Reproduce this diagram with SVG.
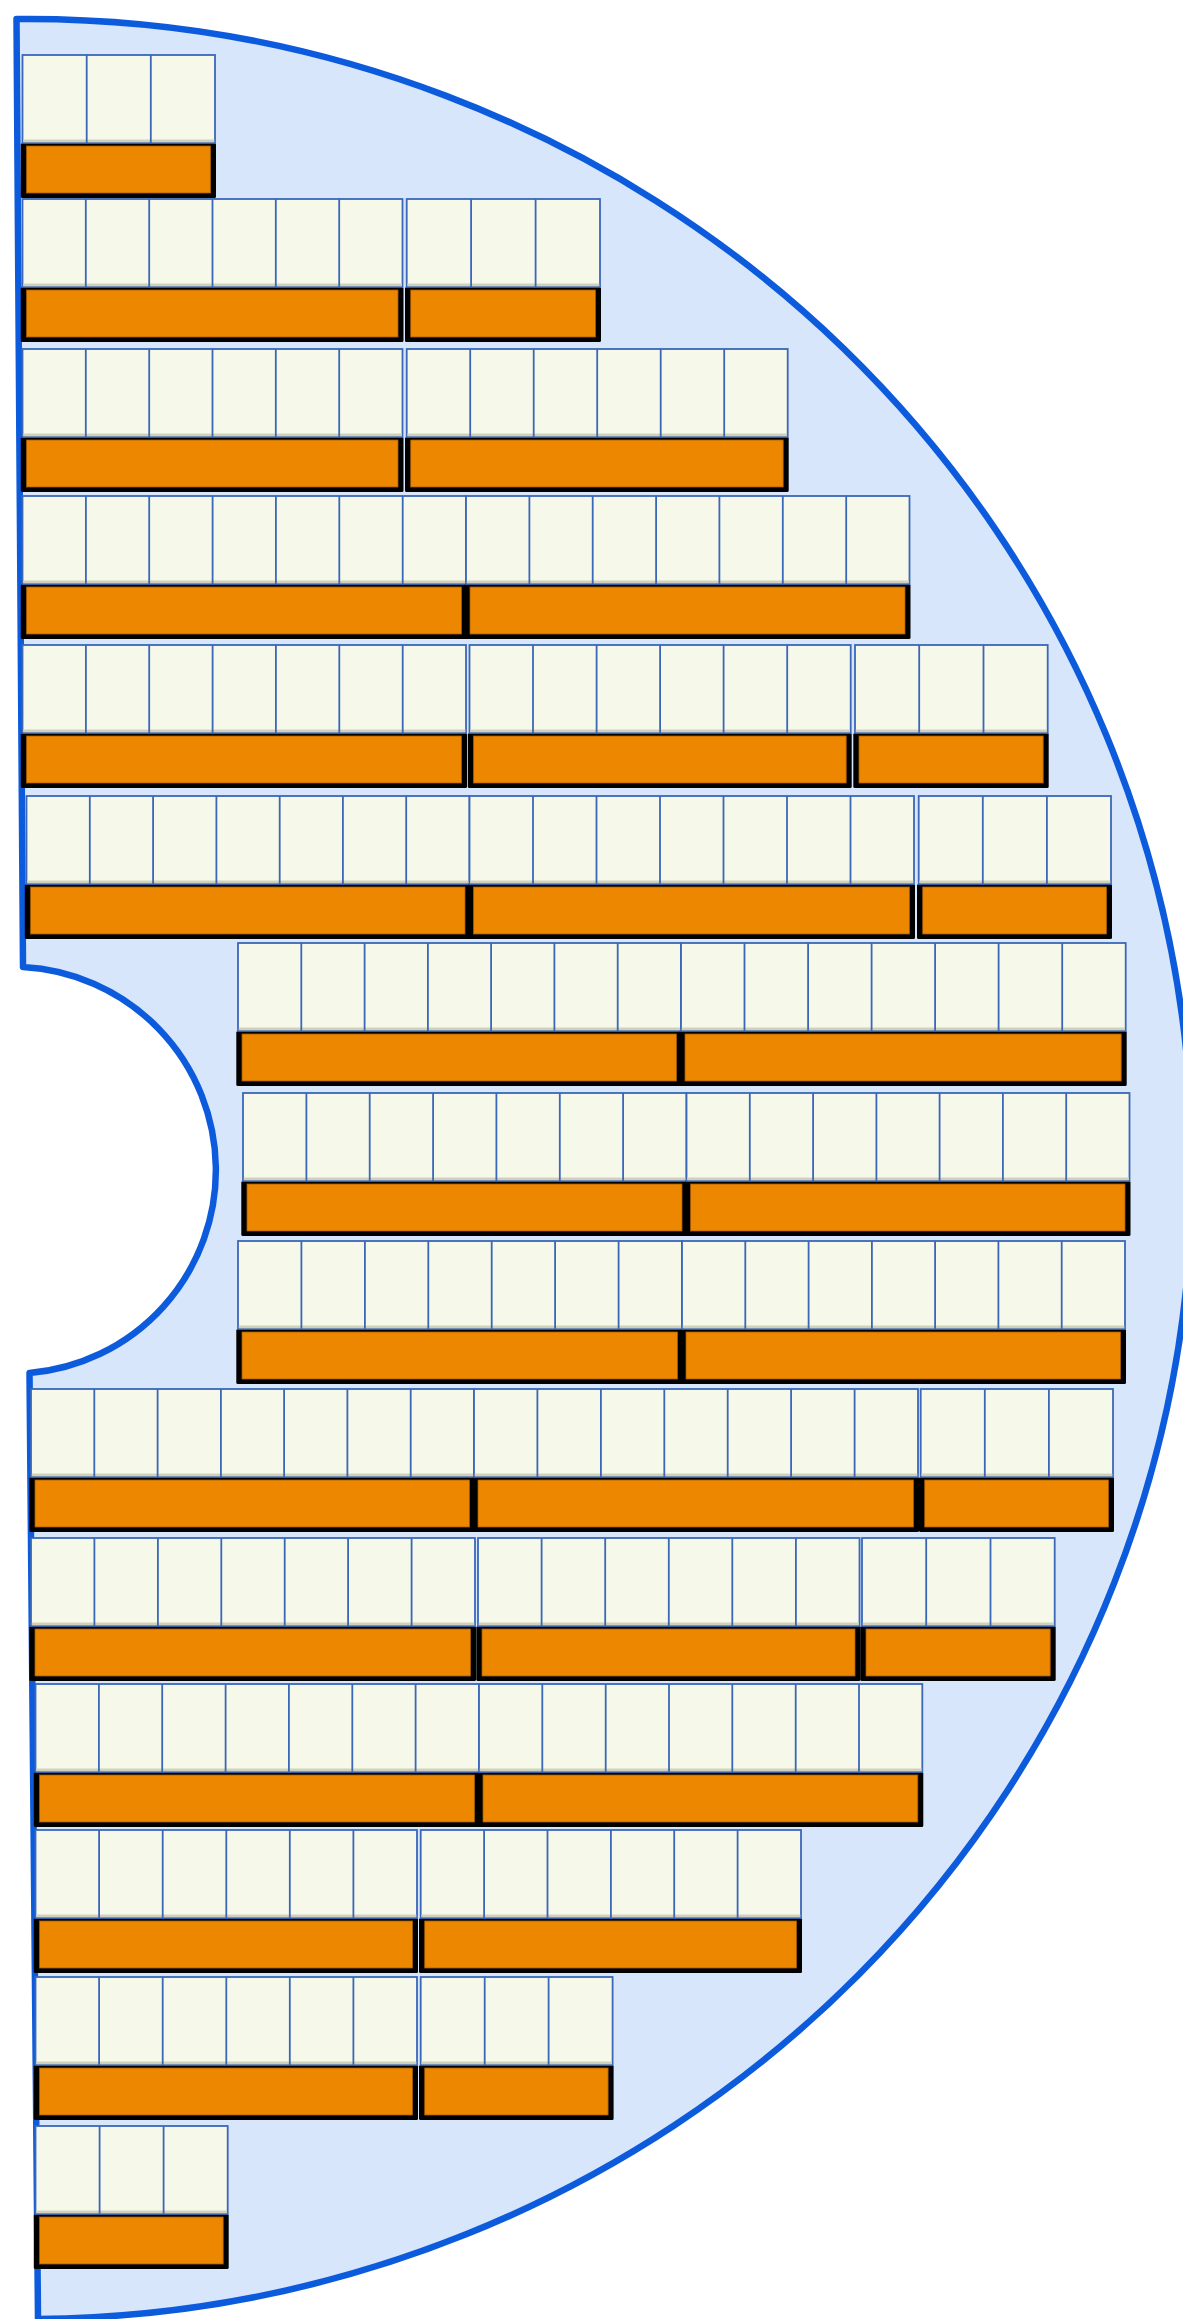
<svg xmlns="http://www.w3.org/2000/svg" width="1183" height="2319" viewBox="0 0 1183 2319">
<style>
.disc{fill:#D7E6FB;stroke:#0D5BDD;stroke-width:6.5;stroke-linejoin:round}
.bk{fill:#000}
.or{fill:#ED8700;stroke:#A35A00;stroke-width:.8}
.cl{fill:#F6F9EA;stroke:#3A67B8;stroke-width:1.8}
.sh{fill:#D1D1B9}
.dv{fill:none;stroke:#3A67B8;stroke-width:1.8}
</style>
<rect width="1183" height="2319" fill="#fff"/>
<g id="wafer">
<path class="disc" d="M16.5,19 L23,967 A203.5,203.5 0 0 1 29.5,1373 L38,2319 A1165,1150 0 0 0 16.5,19 Z"/>
</g>
<g id="row1">
<g id="r1-m1"><rect class="bk" x="20.8" y="143" width="195.2" height="55" rx="1.5"/><rect class="or" x="26.5" y="146" width="184" height="47"/><rect class="cl" x="22.5" y="55" width="192.5" height="88"/><rect class="sh" x="23.3" y="139.5" width="191" height="2.8"/><path class="dv" d="M86.7,55v88M150.8,55v88"/></g>
</g>
<g id="row2">
<g id="r2-m1"><rect class="bk" x="20.8" y="287" width="382.7" height="55" rx="1.5"/><rect class="or" x="26.5" y="290" width="371.5" height="47"/><rect class="cl" x="22.5" y="199" width="380" height="88"/><rect class="sh" x="23.3" y="283.5" width="378.5" height="2.8"/><path class="dv" d="M85.8,199v88M149.2,199v88M212.5,199v88M275.8,199v88M339.2,199v88"/></g>
<g id="r2-m2"><rect class="bk" x="405" y="287" width="196" height="55" rx="1.5"/><rect class="or" x="410.7" y="290" width="184.8" height="47"/><rect class="cl" x="406.7" y="199" width="193.3" height="88"/><rect class="sh" x="407.5" y="283.5" width="191.8" height="2.8"/><path class="dv" d="M471.1,199v88M535.6,199v88"/></g>
</g>
<g id="row3">
<g id="r3-m1"><rect class="bk" x="20.8" y="437" width="382.7" height="55" rx="1.5"/><rect class="or" x="26.5" y="440" width="371.5" height="47"/><rect class="cl" x="22.5" y="349" width="380" height="88"/><rect class="sh" x="23.3" y="433.5" width="378.5" height="2.8"/><path class="dv" d="M85.8,349v88M149.2,349v88M212.5,349v88M275.8,349v88M339.2,349v88"/></g>
<g id="r3-m2"><rect class="bk" x="405" y="437" width="383.7" height="55" rx="1.5"/><rect class="or" x="410.7" y="440" width="372.5" height="47"/><rect class="cl" x="406.7" y="349" width="381" height="88"/><rect class="sh" x="407.5" y="433.5" width="379.5" height="2.8"/><path class="dv" d="M470.2,349v88M533.7,349v88M597.2,349v88M660.7,349v88M724.2,349v88"/></g>
</g>
<g id="row4">
<g id="r4-m1"><rect class="bk" x="20.8" y="584" width="446.2" height="55" rx="1.5"/><rect class="or" x="26.5" y="587" width="435" height="47"/><rect class="cl" x="22.5" y="496" width="443.5" height="88"/><rect class="sh" x="23.3" y="580.5" width="442" height="2.8"/><path class="dv" d="M85.9,496v88M149.2,496v88M212.6,496v88M275.9,496v88M339.3,496v88M402.7,496v88"/></g>
<g id="r4-m2"><rect class="bk" x="464.3" y="584" width="446.2" height="55" rx="1.5"/><rect class="or" x="470" y="587" width="435" height="47"/><rect class="cl" x="466" y="496" width="443.5" height="88"/><rect class="sh" x="466.8" y="580.5" width="442" height="2.8"/><path class="dv" d="M529.4,496v88M592.7,496v88M656.1,496v88M719.4,496v88M782.8,496v88M846.2,496v88"/></g>
</g>
<g id="row5">
<g id="r5-m1"><rect class="bk" x="20.8" y="733" width="446.2" height="55" rx="1.5"/><rect class="or" x="26.5" y="736" width="435" height="47"/><rect class="cl" x="22.5" y="645" width="443.5" height="88"/><rect class="sh" x="23.3" y="729.5" width="442" height="2.8"/><path class="dv" d="M85.9,645v88M149.2,645v88M212.6,645v88M275.9,645v88M339.3,645v88M402.7,645v88"/></g>
<g id="r5-m2"><rect class="bk" x="467.8" y="733" width="383.9" height="55" rx="1.5"/><rect class="or" x="473.5" y="736" width="372.7" height="47"/><rect class="cl" x="469.5" y="645" width="381.2" height="88"/><rect class="sh" x="470.3" y="729.5" width="379.7" height="2.8"/><path class="dv" d="M533,645v88M596.6,645v88M660.1,645v88M723.6,645v88M787.2,645v88"/></g>
<g id="r5-m3"><rect class="bk" x="853.3" y="733" width="195.4" height="55" rx="1.5"/><rect class="or" x="859" y="736" width="184.2" height="47"/><rect class="cl" x="855" y="645" width="192.7" height="88"/><rect class="sh" x="855.8" y="729.5" width="191.2" height="2.8"/><path class="dv" d="M919.2,645v88M983.5,645v88"/></g>
</g>
<g id="row6">
<g id="r6-m1"><rect class="bk" x="24.8" y="884" width="445.7" height="55" rx="1.5"/><rect class="or" x="30.5" y="887" width="434.5" height="47"/><rect class="cl" x="26.5" y="796" width="443" height="88"/><rect class="sh" x="27.3" y="880.5" width="441.5" height="2.8"/><path class="dv" d="M89.8,796v88M153.1,796v88M216.4,796v88M279.7,796v88M342.9,796v88M406.2,796v88"/></g>
<g id="r6-m2"><rect class="bk" x="467.8" y="884" width="447.2" height="55" rx="1.5"/><rect class="or" x="473.5" y="887" width="436" height="47"/><rect class="cl" x="469.5" y="796" width="444.5" height="88"/><rect class="sh" x="470.3" y="880.5" width="443" height="2.8"/><path class="dv" d="M533,796v88M596.5,796v88M660,796v88M723.5,796v88M787,796v88M850.5,796v88"/></g>
<g id="r6-m3"><rect class="bk" x="917" y="884" width="195" height="55" rx="1.5"/><rect class="or" x="922.7" y="887" width="183.8" height="47"/><rect class="cl" x="918.7" y="796" width="192.3" height="88"/><rect class="sh" x="919.5" y="880.5" width="190.8" height="2.8"/><path class="dv" d="M982.8,796v88M1046.9,796v88"/></g>
</g>
<g id="row7">
<g id="r7-m1"><rect class="bk" x="236.3" y="1031" width="445.7" height="55" rx="1.5"/><rect class="or" x="242" y="1034" width="434.5" height="47"/><rect class="cl" x="238" y="943" width="443" height="88"/><rect class="sh" x="238.8" y="1027.5" width="441.5" height="2.8"/><path class="dv" d="M301.3,943v88M364.6,943v88M427.9,943v88M491.1,943v88M554.4,943v88M617.7,943v88"/></g>
<g id="r7-m2"><rect class="bk" x="679.3" y="1031" width="447.4" height="55" rx="1.5"/><rect class="or" x="685" y="1034" width="436.2" height="47"/><rect class="cl" x="681" y="943" width="444.7" height="88"/><rect class="sh" x="681.8" y="1027.5" width="443.2" height="2.8"/><path class="dv" d="M744.5,943v88M808.1,943v88M871.6,943v88M935.1,943v88M998.6,943v88M1062.2,943v88"/></g>
</g>
<g id="row8">
<g id="r8-m1"><rect class="bk" x="241.3" y="1181" width="446.2" height="55" rx="1.5"/><rect class="or" x="247" y="1184" width="435" height="47"/><rect class="cl" x="243" y="1093" width="443.5" height="88"/><rect class="sh" x="243.8" y="1177.5" width="442" height="2.8"/><path class="dv" d="M306.4,1093v88M369.7,1093v88M433.1,1093v88M496.4,1093v88M559.8,1093v88M623.1,1093v88"/></g>
<g id="r8-m2"><rect class="bk" x="684.8" y="1181" width="445.7" height="55" rx="1.5"/><rect class="or" x="690.5" y="1184" width="434.5" height="47"/><rect class="cl" x="686.5" y="1093" width="443" height="88"/><rect class="sh" x="687.3" y="1177.5" width="441.5" height="2.8"/><path class="dv" d="M749.8,1093v88M813.1,1093v88M876.4,1093v88M939.6,1093v88M1002.9,1093v88M1066.2,1093v88"/></g>
</g>
<g id="row9">
<g id="r9-m1"><rect class="bk" x="236.3" y="1329" width="446.7" height="55" rx="1.5"/><rect class="or" x="242" y="1332" width="435.5" height="47"/><rect class="cl" x="238" y="1241" width="444" height="88"/><rect class="sh" x="238.8" y="1325.5" width="442.5" height="2.8"/><path class="dv" d="M301.4,1241v88M364.9,1241v88M428.3,1241v88M491.7,1241v88M555.1,1241v88M618.6,1241v88"/></g>
<g id="r9-m2"><rect class="bk" x="680.3" y="1329" width="445.7" height="55" rx="1.5"/><rect class="or" x="686" y="1332" width="434.5" height="47"/><rect class="cl" x="682" y="1241" width="443" height="88"/><rect class="sh" x="682.8" y="1325.5" width="441.5" height="2.8"/><path class="dv" d="M745.3,1241v88M808.6,1241v88M871.9,1241v88M935.1,1241v88M998.4,1241v88M1061.7,1241v88"/></g>
</g>
<g id="row10">
<g id="r10-m1"><rect class="bk" x="29.3" y="1477" width="445.7" height="55" rx="1.5"/><rect class="or" x="35" y="1480" width="434.5" height="47"/><rect class="cl" x="31" y="1389" width="443" height="88"/><rect class="sh" x="31.8" y="1473.5" width="441.5" height="2.8"/><path class="dv" d="M94.3,1389v88M157.6,1389v88M220.9,1389v88M284.1,1389v88M347.4,1389v88M410.7,1389v88"/></g>
<g id="r10-m2"><rect class="bk" x="472.3" y="1477" width="446.7" height="55" rx="1.5"/><rect class="or" x="478" y="1480" width="435.5" height="47"/><rect class="cl" x="474" y="1389" width="444" height="88"/><rect class="sh" x="474.8" y="1473.5" width="442.5" height="2.8"/><path class="dv" d="M537.4,1389v88M600.9,1389v88M664.3,1389v88M727.7,1389v88M791.1,1389v88M854.6,1389v88"/></g>
<g id="r10-m3"><rect class="bk" x="919" y="1477" width="195" height="55" rx="1.5"/><rect class="or" x="924.7" y="1480" width="183.8" height="47"/><rect class="cl" x="920.7" y="1389" width="192.3" height="88"/><rect class="sh" x="921.5" y="1473.5" width="190.8" height="2.8"/><path class="dv" d="M984.8,1389v88M1048.9,1389v88"/></g>
</g>
<g id="row11">
<g id="r11-m1"><rect class="bk" x="29.3" y="1626" width="446.7" height="55" rx="1.5"/><rect class="or" x="35" y="1629" width="435.5" height="47"/><rect class="cl" x="31" y="1538" width="444" height="88"/><rect class="sh" x="31.8" y="1622.5" width="442.5" height="2.8"/><path class="dv" d="M94.4,1538v88M157.9,1538v88M221.3,1538v88M284.7,1538v88M348.1,1538v88M411.6,1538v88"/></g>
<g id="r11-m2"><rect class="bk" x="476.3" y="1626" width="384.2" height="55" rx="1.5"/><rect class="or" x="482" y="1629" width="373" height="47"/><rect class="cl" x="478" y="1538" width="381.5" height="88"/><rect class="sh" x="478.8" y="1622.5" width="380" height="2.8"/><path class="dv" d="M541.6,1538v88M605.2,1538v88M668.8,1538v88M732.3,1538v88M795.9,1538v88"/></g>
<g id="r11-m3"><rect class="bk" x="860.3" y="1626" width="195.4" height="55" rx="1.5"/><rect class="or" x="866" y="1629" width="184.2" height="47"/><rect class="cl" x="862" y="1538" width="192.7" height="88"/><rect class="sh" x="862.8" y="1622.5" width="191.2" height="2.8"/><path class="dv" d="M926.2,1538v88M990.5,1538v88"/></g>
</g>
<g id="row12">
<g id="r12-m1"><rect class="bk" x="33.8" y="1772" width="446.2" height="55" rx="1.5"/><rect class="or" x="39.5" y="1775" width="435" height="47"/><rect class="cl" x="35.5" y="1684" width="443.5" height="88"/><rect class="sh" x="36.3" y="1768.5" width="442" height="2.8"/><path class="dv" d="M98.9,1684v88M162.2,1684v88M225.6,1684v88M288.9,1684v88M352.3,1684v88M415.6,1684v88"/></g>
<g id="r12-m2"><rect class="bk" x="477.3" y="1772" width="446" height="55" rx="1.5"/><rect class="or" x="483" y="1775" width="434.8" height="47"/><rect class="cl" x="479" y="1684" width="443.3" height="88"/><rect class="sh" x="479.8" y="1768.5" width="441.8" height="2.8"/><path class="dv" d="M542.3,1684v88M605.7,1684v88M669,1684v88M732.3,1684v88M795.7,1684v88M859,1684v88"/></g>
</g>
<g id="row13">
<g id="r13-m1"><rect class="bk" x="33.8" y="1918" width="384.2" height="55" rx="1.5"/><rect class="or" x="39.5" y="1921" width="373" height="47"/><rect class="cl" x="35.5" y="1830" width="381.5" height="88"/><rect class="sh" x="36.3" y="1914.5" width="380" height="2.8"/><path class="dv" d="M99.1,1830v88M162.7,1830v88M226.3,1830v88M289.8,1830v88M353.4,1830v88"/></g>
<g id="r13-m2"><rect class="bk" x="419" y="1918" width="383" height="55" rx="1.5"/><rect class="or" x="424.7" y="1921" width="371.8" height="47"/><rect class="cl" x="420.7" y="1830" width="380.3" height="88"/><rect class="sh" x="421.5" y="1914.5" width="378.8" height="2.8"/><path class="dv" d="M484.1,1830v88M547.5,1830v88M610.9,1830v88M674.2,1830v88M737.6,1830v88"/></g>
</g>
<g id="row14">
<g id="r14-m1"><rect class="bk" x="33.8" y="2065" width="384.2" height="55" rx="1.5"/><rect class="or" x="39.5" y="2068" width="373" height="47"/><rect class="cl" x="35.5" y="1977" width="381.5" height="88"/><rect class="sh" x="36.3" y="2061.5" width="380" height="2.8"/><path class="dv" d="M99.1,1977v88M162.7,1977v88M226.3,1977v88M289.8,1977v88M353.4,1977v88"/></g>
<g id="r14-m2"><rect class="bk" x="419" y="2065" width="194.6" height="55" rx="1.5"/><rect class="or" x="424.7" y="2068" width="183.4" height="47"/><rect class="cl" x="420.7" y="1977" width="191.9" height="88"/><rect class="sh" x="421.5" y="2061.5" width="190.4" height="2.8"/><path class="dv" d="M484.7,1977v88M548.6,1977v88"/></g>
</g>
<g id="row15">
<g id="r15-m1"><rect class="bk" x="33.8" y="2214" width="194.9" height="55" rx="1.5"/><rect class="or" x="39.5" y="2217" width="183.7" height="47"/><rect class="cl" x="35.5" y="2126" width="192.2" height="88"/><rect class="sh" x="36.3" y="2210.5" width="190.7" height="2.8"/><path class="dv" d="M99.6,2126v88M163.6,2126v88"/></g>
</g>
</svg>
